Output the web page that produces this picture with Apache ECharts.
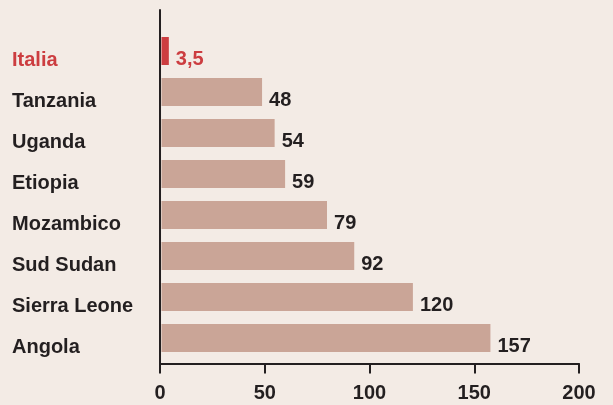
<!DOCTYPE html>
<html><head><meta charset="utf-8">
<script src="https://cdn.jsdelivr.net/npm/echarts@6/dist/echarts.min.js"></script>
<style>html,body{margin:0;padding:0;background:#f3ebe5;}#c{width:613px;height:405px;}</style>
</head><body><div id="c"></div>
<script>
const categories = ['Italia','Tanzania','Uganda','Etiopia','Mozambico','Sud Sudan','Sierra Leone','Angola'];
const values = [3.5, 48, 54, 59, 79, 92, 120, 157];
const highlight = 'Italia';
const xMin = 0, xMax = 200, xStep = 50;

const RED = '#cc3d40', BAR = '#caa597', INK = '#231f20';
const FONT = 'Liberation Sans';
const fmt = v => String(v).replace('.', ',');

const chart = echarts.init(document.getElementById('c'), null, {renderer:'canvas'});
chart.setOption({
  backgroundColor: '#f3ebe5',
  animation: false,
  grid: [
    {left: 161.5, width: 419, top: 30.5, height: 328},
    {left: 160, width: 419, top: 10, height: 353.5}
  ],
  xAxis: [
    {gridIndex: 0, type: 'value', min: xMin, max: xMax, show: false},
    {gridIndex: 1, type: 'value', min: xMin, max: xMax, interval: xStep, z: 5,
     axisLine: {show: true, lineStyle: {color: INK, width: 2}},
     axisTick: {show: true, length: 10, lineStyle: {color: INK, width: 2}},
     splitLine: {show: false},
     axisLabel: {margin: 20, color: INK, fontFamily: FONT, fontWeight: 'bold', fontSize: 20}}
  ],
  yAxis: [
    {gridIndex: 0, type: 'category', data: categories, inverse: true,
     axisLine: {show: false}, axisTick: {show: false},
     axisLabel: {align: 'left', margin: 149.5, verticalAlign: 'top', lineHeight: 19,
       fontFamily: FONT, fontWeight: 'bold', fontSize: 20,
       color: (v) => v === highlight ? RED : INK}},
    {gridIndex: 1, type: 'value', min: 0, max: 1, z: 5,
     axisLine: {show: true, lineStyle: {color: INK, width: 2}},
     axisTick: {show: false}, axisLabel: {show: false}, splitLine: {show: false}}
  ],
  series: [{
    type: 'bar', xAxisIndex: 0, yAxisIndex: 0, barWidth: 28,
    data: values.map((v, i) => ({
      value: v,
      itemStyle: {color: categories[i] === highlight ? RED : BAR},
      label: {color: categories[i] === highlight ? RED : INK}
    })),
    label: {show: true, position: 'right', distance: 7, offset: [0, 8],
      fontFamily: FONT, fontWeight: 'bold', fontSize: 20,
      formatter: p => fmt(p.value)}
  }]
});
</script></body></html>
